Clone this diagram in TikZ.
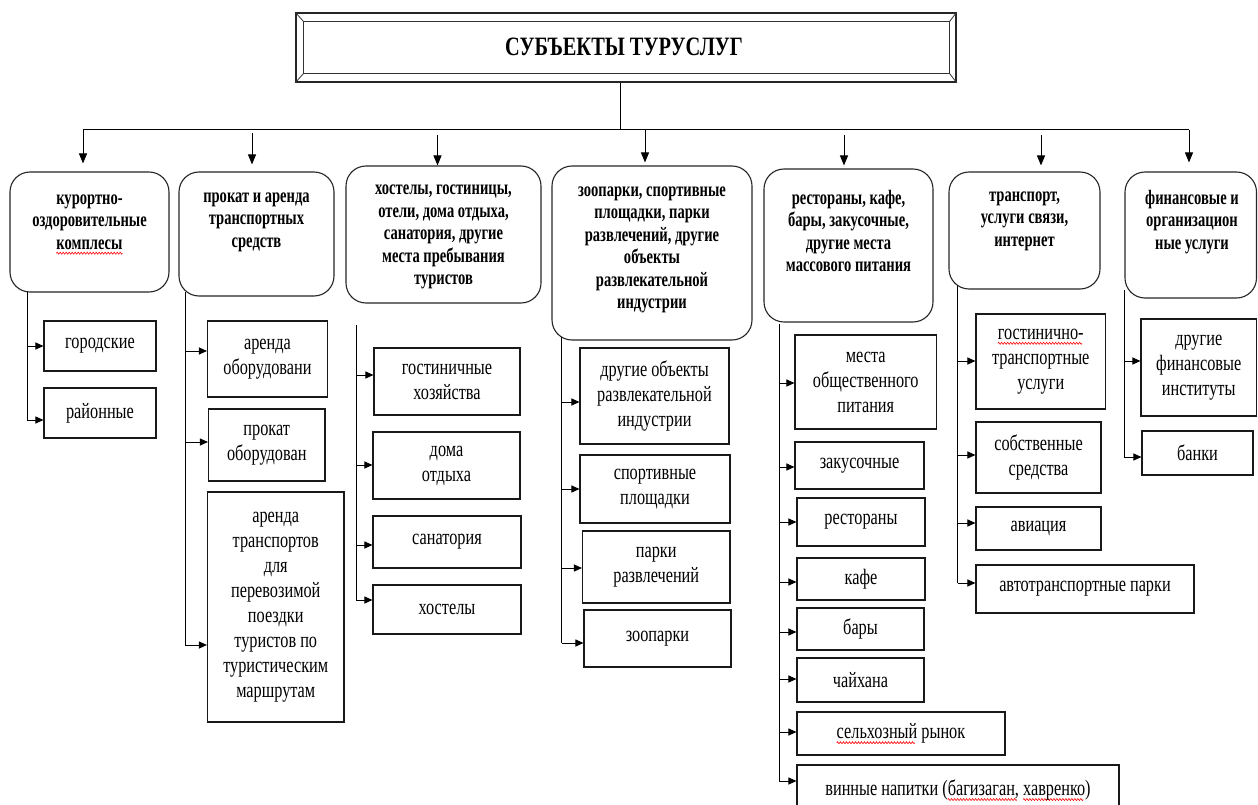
\documentclass[tikz,border=0pt]{standalone}
\usepackage{fontspec}
\setmainfont{Liberation Serif}[FakeStretch=0.77]
\newfontfamily\topfont{Liberation Serif}[FakeStretch=0.71]
\newfontfamily\childfont{Liberation Serif}[FakeStretch=0.74]
\usetikzlibrary{arrows.meta}
\newsavebox\wavbox
\newcommand\wavy[1]{\sbox\wavbox{#1}\rlap{\leaders\hbox{\tikz[baseline=0pt]{\useasboundingbox (0pt,0pt) rectangle (3pt,1pt); \draw[red, line width=0.6pt] (0pt,-4pt) -- (0.75pt,-3pt) -- (2.25pt,-5pt) -- (3pt,-4pt);}}\hskip\wd\wavbox}\usebox\wavbox}
\tikzset{
  conn/.style={line width=1pt, draw=black},
  tarrow/.style={conn, -{Triangle[length=10pt,width=8pt]}},
  sarrow/.style={conn, -{Triangle[length=8pt,width=7pt]}},
  topbox/.style={draw=black!85, line width=1.1pt, rounded corners=20pt, inner sep=0pt, fill=white},
  toptext/.style={align=center, inner sep=0pt, font=\topfont\fontsize{20.5}{22.5}\selectfont\bfseries},
  cbox/.style={draw=black!90, line width=1.1pt, inner sep=0pt, align=center, fill=white,
    font=\childfont\fontsize{22}{25}\selectfont},
  titlebox/.style={draw=black!85, line width=1.1pt, inner sep=0pt, fill=white},
  titletext/.style={inner sep=0pt, font=\fontsize{26.5}{30}\selectfont\bfseries}
}
\newcommand\chbox[6]{\node[cbox, minimum width={(#4-#2)*1pt}, minimum height={(#5-#3)*1pt}] (#1) at ({(#2+#4)/2},{(#3+#5)/2}) {#6};}
\newcommand\tpbox[5]{\node[topbox, minimum width={(#4-#2)*1pt}, minimum height={(#5-#3)*1pt}] (#1) at ({(#2+#4)/2},{(#3+#5)/2}) {};}
\begin{document}
\begin{tikzpicture}[x=1pt,y=-1pt]
\useasboundingbox (0,0) rectangle (1258,805);
\fill[white] (0,0) rectangle (1258,805);
\clip (0,0) rectangle (1258,805);

% title
\node[titlebox, minimum width=660pt, minimum height=69pt] (title) at (626,47.5) {};
\draw[line width=0.9pt, black!80] ([xshift=8pt,yshift=-9pt]title.north west) rectangle ([xshift=-7pt,yshift=9pt]title.south east);
\draw[line width=0.8pt, black!80] (title.north west) -- ([xshift=8pt,yshift=-9pt]title.north west)
  (title.south west) -- ([xshift=8pt,yshift=9pt]title.south west)
  (title.north east) -- ([xshift=-7pt,yshift=-9pt]title.north east)
  (title.south east) -- ([xshift=-7pt,yshift=9pt]title.south east);
\node[titletext] (titlet) at (624,47) {СУБЪЕКТЫ ТУРУСЛУГ};

% top boxes
\tpbox{tb1}{10}{172}{169}{292}
\tpbox{tb2}{179}{172}{334}{296}
\tpbox{tb3}{346}{166}{541}{303}
\tpbox{tb4}{552}{166}{752}{340}
\tpbox{tb5}{764}{169}{933}{322}
\tpbox{tb6}{949}{172}{1100}{289}
\tpbox{tb7}{1125}{172}{1256.5}{298}
\node[toptext] (tb1t) at (89.5,222) {курортно-\\оздоровительные\\\wavy{комплесы}};
\node[toptext] (tb2t) at (256.5,222) {прокат и аренда\\транспортных\\средств};
\node[toptext] (tb3t) at (443.5,237) {хостелы, гостиницы,\\отели, дома отдыха,\\санатория, другие\\места пребывания\\туристов};
\node[toptext] (tb4t) at (652,250) {зоопарки, спортивные\\площадки, парки\\развлечений, другие\\объекты\\развлекательной\\индустрии};
\node[toptext] (tb5t) at (848.5,231) {рестораны, кафе,\\бары, закусочные,\\другие места\\массового питания};
\node[toptext] (tb6t) at (1024.5,221) {транспорт,\\услуги связи,\\интернет};
\node[toptext] (tb7t) at (1192,222) {финансовые и\\организацион\\ные услуги};

% bus and top arrows
\coordinate (t0) at (620,130);
\coordinate (b1) at (83,130);
\coordinate (b2) at (252,133);
\coordinate (b3) at (437.5,135);
\coordinate (b4) at (645,130);
\coordinate (b5) at (844,135);
\coordinate (b6) at (1041,135);
\coordinate (b7) at (1189,130);
\draw[conn] (t0 |- title.south) -- (t0);
\draw[conn] (b1) -- (b7);
\draw[tarrow, shorten >=8pt] (b1) -- (b1 |- tb1.north);
\draw[tarrow, shorten >=7pt] (b2) -- (b2 |- tb2.north);
\draw[tarrow] (b3) -- (b3 |- tb3.north);
\draw[tarrow, shorten >=3pt] (b4) -- (b4 |- tb4.north);
\draw[tarrow, shorten >=3pt] (b5) -- (b5 |- tb5.north);
\draw[tarrow, shorten >=6pt] (b6) -- (b6 |- tb6.north);
\draw[tarrow, shorten >=9pt] (b7) -- (b7 |- tb7.north);

% column 1
\chbox{g11}{44}{321}{156}{371}{городские}
\chbox{g12}{44}{388}{156}{438}{районные}
\coordinate (v1) at (27,292);
\coordinate (a11) at (27,346);
\coordinate (a12) at (27,420);
\draw[conn] (v1) -- (a12);
\draw[sarrow] (a11) -- (a11 -| g11.west);
\draw[sarrow] (a12) -- (a12 -| g12.west);

% column 2
\chbox{g21}{207.5}{321}{327.5}{397}{аренда\\оборудовани}
\chbox{g22}{208.5}{409}{325}{481}{прокат\\оборудован}
\chbox{g23}{207.5}{492}{344}{722}{аренда\\транспортов\\для\\перевозимой\\поездки\\туристов по\\туристическим\\маршрутам}
\coordinate (v2) at (185,292);
\coordinate (a21) at (185,351);
\coordinate (a22) at (185,442);
\coordinate (a23) at (185,645);
\draw[conn] (v2) -- (a23);
\draw[sarrow] (a21) -- (a21 -| g21.west);
\draw[sarrow] (a22) -- (a22 -| g22.west);
\draw[sarrow] (a23) -- (a23 -| g23.west);

% column 3
\chbox{g31}{374}{348}{520}{415}{гостиничные\\хозяйства}
\chbox{g32}{373}{432}{520}{499}{дома\\отдыха}
\chbox{g33}{373}{516}{521}{568}{санатория}
\chbox{g34}{373}{585}{521}{634}{хостелы}
\coordinate (v3) at (356,325);
\coordinate (a31) at (356,375);
\coordinate (a32) at (356,465);
\coordinate (a33) at (356,545);
\coordinate (a34) at (356,600);
\draw[conn] (v3) -- (a34);
\draw[sarrow] (a31) -- (a31 -| g31.west);
\draw[sarrow] (a32) -- (a32 -| g32.west);
\draw[sarrow] (a33) -- (a33 -| g33.west);
\draw[sarrow] (a34) -- (a34 -| g34.west);

% column 4
\chbox{g41}{580}{348}{729}{444}{другие объекты\\развлекательной\\индустрии}
\chbox{g42}{580}{455}{730}{523}{спортивные\\площадки}
\chbox{g43}{582.5}{531}{730}{603}{парки\\развлечений}
\chbox{g44}{584}{610}{731}{667}{зоопарки}
\coordinate (v4) at (561.5,337);
\coordinate (a41) at (561.5,402);
\coordinate (a42) at (561.5,489);
\coordinate (a43) at (561.5,568);
\coordinate (a44) at (561.5,643);
\draw[conn] (v4) -- (a44);
\draw[sarrow] (a41) -- (a41 -| g41.west);
\draw[sarrow] (a42) -- (a42 -| g42.west);
\draw[sarrow] (a43) -- (a43 -| g43.west);
\draw[sarrow] (a44) -- (a44 -| g44.west);

% column 5
\chbox{g51}{795}{335}{936.5}{429}{места\\общественного\\питания}
\chbox{g52}{795}{442}{924}{489}{закусочные}
\chbox{g53}{797}{498}{925}{546}{рестораны}
\chbox{g54}{797}{558}{925}{600}{кафе}
\chbox{g55}{797}{608}{924}{650}{бары}
\chbox{g56}{797}{658}{924}{702}{чайхана}
\chbox{g57}{797}{712}{1005}{755}{\wavy{сельхозный} рынок}
\chbox{g58}{797}{765}{1119}{815}{винные напитки (\wavy{багизаган,} \wavy{хавренко})}
\coordinate (v5) at (779,324);
\coordinate (a51) at (779,383);
\coordinate (a52) at (779,467);
\coordinate (a53) at (779,522);
\coordinate (a54) at (779,582);
\coordinate (a55) at (779,632);
\coordinate (a56) at (779,679);
\coordinate (a57) at (779,732);
\coordinate (a58) at (779,781);
\draw[conn] (v5) -- (a58);
\draw[sarrow] (a51) -- (a51 -| g51.west);
\draw[sarrow] (a52) -- (a52 -| g52.west);
\draw[sarrow] (a53) -- (a53 -| g53.west);
\draw[sarrow] (a54) -- (a54 -| g54.west);
\draw[sarrow] (a55) -- (a55 -| g55.west);
\draw[sarrow] (a56) -- (a56 -| g56.west);
\draw[sarrow] (a57) -- (a57 -| g57.west);
\draw[sarrow] (a58) -- (a58 -| g58.west);

% column 6
\chbox{g61}{976}{314}{1105.5}{409}{\wavy{гостинично-}\\транспортные\\услуги}
\chbox{g62}{976}{422}{1101}{493}{собственные\\средства}
\chbox{g63}{976}{507}{1101}{550}{авиация}
\chbox{g64}{976}{565}{1194}{613}{автотранспортные парки}
\coordinate (v6) at (957.5,286);
\coordinate (a61) at (957.5,361);
\coordinate (a62) at (957.5,455);
\coordinate (a63) at (957.5,523);
\coordinate (a64) at (957.5,583);
\draw[conn] (v6) -- (a64);
\draw[sarrow] (a61) -- (a61 -| g61.west);
\draw[sarrow] (a62) -- (a62 -| g62.west);
\draw[sarrow] (a63) -- (a63 -| g63.west);
\draw[sarrow] (a64) -- (a64 -| g64.west);

% column 7
\chbox{g71}{1141}{319}{1256.5}{416}{другие\\финансовые\\институты}
\chbox{g72}{1142}{431}{1253}{475}{банки}
\coordinate (v7) at (1124,290);
\coordinate (a71) at (1124,361);
\coordinate (a72) at (1124,457);
\draw[conn] (v7) -- (a72);
\draw[sarrow] (a71) -- (a71 -| g71.west);
\draw[sarrow] (a72) -- (a72 -| g72.west);
\end{tikzpicture}
\end{document}
